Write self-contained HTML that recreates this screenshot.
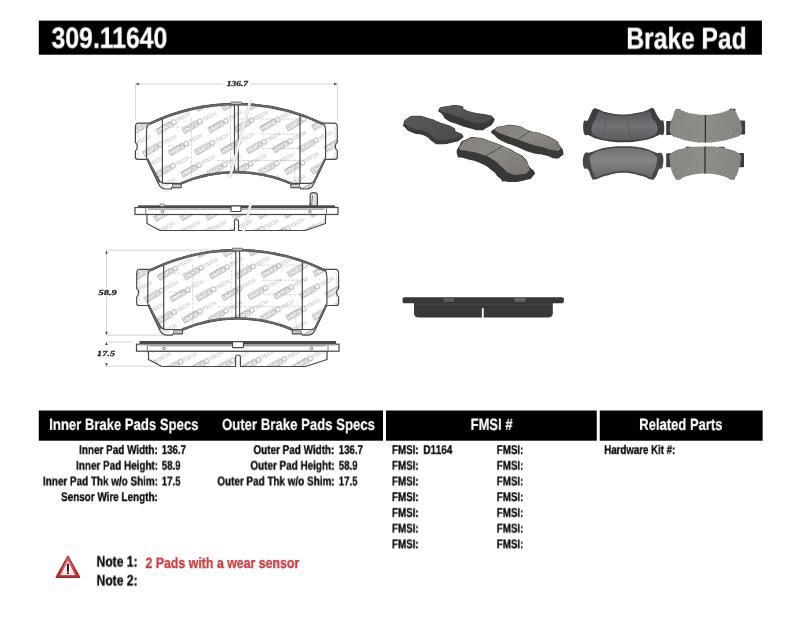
<!DOCTYPE html>
<html lang="en">
<head>
<meta charset="utf-8">
<title>309.11640 Brake Pad</title>
<style>
  html, body { margin: 0; padding: 0; background: #fff; }
  body { width: 800px; height: 619px; position: relative; overflow: hidden;
         font-family: "Liberation Sans", sans-serif; font-weight: bold; color: #0a0a0a; }
  #art { position: absolute; left: 0; top: 0; }
  .t { position: absolute; left: 0; top: 0; white-space: nowrap; line-height: 1;
       transform-origin: 0 0; will-change: transform; text-rendering: geometricPrecision; }
  .r { left: auto; right: 0; transform-origin: 100% 0; }
  .w { color: #fff; }
  .h1 { font-size: 30.1px; -webkit-text-stroke: .3px #fff; }
  .h2 { font-size: 16.2px; -webkit-text-stroke: .2px #fff; }
  .row { font-size: 12.6px; -webkit-text-stroke: 0.3px #0a0a0a; }
  .note { font-size: 15.1px; -webkit-text-stroke: .3px #0a0a0a; }
  .red { color: #cf3a3c; font-size: 15.0px; -webkit-text-stroke: .3px #cf3a3c; }
  .dim { font-family: "Liberation Serif", serif; font-style: italic; font-weight: bold;
         font-size: 7.75px; color: #262626; -webkit-text-stroke: .3px #262626; }
</style>
</head>
<body>

<!-- ===== bars, drawings, photos ===== -->
<svg id="art" width="800" height="619" viewBox="0 0 800 619" role="img" aria-label="Brake pad 309.11640 drawings and photos">
<defs>
  <linearGradient id="wg" x1="0" y1="0" x2="0" y2="1">
    <stop offset="0" stop-color="#e07474"/>
    <stop offset=".55" stop-color="#d24444"/>
    <stop offset="1" stop-color="#bb2c2c"/>
  </linearGradient>
  <filter id="dsoft" x="0" y="0" width="100%" height="100%" filterUnits="userSpaceOnUse" primitiveUnits="userSpaceOnUse"><feGaussianBlur stdDeviation="0.35"/></filter>
  <pattern id="wm" width="45.6" height="24.8" patternUnits="userSpaceOnUse" patternTransform="translate(3 2) rotate(-30)">
    <g font-family="Liberation Sans, sans-serif" font-size="5.4">
      <rect x="0.6" y="1" width="15.6" height="5.2" fill="none" stroke="#b6b6b6" stroke-width="1"/>
      <text x="1.6" y="5.5" font-weight="bold" fill="#b6b6b6" textLength="13.6" lengthAdjust="spacingAndGlyphs">STOP</text>
      <circle cx="19.6" cy="3.6" r="2.3" fill="none" stroke="#b6b6b6" stroke-width="1"/>
      <text x="23" y="5.5" fill="#c9c9c9" textLength="14.5" lengthAdjust="spacingAndGlyphs">TECH</text>
      <rect x="23.4" y="13.4" width="15.6" height="5.2" fill="none" stroke="#b6b6b6" stroke-width="1"/>
      <text x="24.4" y="17.9" font-weight="bold" fill="#b6b6b6" textLength="13.6" lengthAdjust="spacingAndGlyphs">STOP</text>
      <circle cx="42.4" cy="16" r="2.3" fill="none" stroke="#b6b6b6" stroke-width="1"/>
      <text x="0.2" y="17.9" fill="#c9c9c9" textLength="14.5" lengthAdjust="spacingAndGlyphs">TECH</text>
    </g>
  </pattern>
</defs>
<g id="bars" fill="#000">
  <rect x="38.8" y="20.6" width="723.1" height="34.1"/>
  <rect x="38.75" y="410.5" width="344.25" height="30.2"/>
  <rect x="386" y="410.5" width="210.75" height="30.2"/>
  <rect x="599.75" y="410.5" width="162.9" height="30.2"/>
</g>
<g id="warn">
  <path d="M67.9 556.4 L79.5 577.2 L56.3 577.2 Z" fill="#a32626" stroke="#a32626" stroke-width="1.5" stroke-linejoin="round"/>
  <path d="M67.9 557.4 L78.6 576.7 L57.2 576.7 Z" fill="url(#wg)" stroke="url(#wg)" stroke-width=".5" stroke-linejoin="round"/>
  <path d="M67.9 561.1 L75.2 575 L60.6 575 Z" fill="#fdf1f1" stroke="#f0aaaa" stroke-width=".5" stroke-linejoin="round"/>
  <rect x="66.95" y="563.7" width="1.9" height="8" rx=".5" fill="#151515"/>
  <circle cx="67.9" cy="573.3" r="1.05" fill="#151515"/>
</g>
<g id="dims" fill="none" stroke="#cacaca" stroke-width=".8">
  <path d="M135.4 83.6V120 M337.5 83.6V120 M136 84H222.8 M250.6 84H337"/>
  <path d="M106.5 250.2V288 M106.5 296.5V335 M106.5 250.2H235 M106.5 335.2H165"/>
  <path d="M108 342.2H132 M108 366.3H161"/>
</g>
<g id="arrows" fill="#444">
  <path d="M135.6 84l3.2-1.2v2.4z M337.3 84l-3.2-1.2v2.4z"/>
  <path d="M106.5 250.4l-1.3 3.2h2.6z M106.5 335l-1.3-3.2h2.6z M106.5 341.9l-1.4 3h2.8z M106.5 366.3l-1.4-3h2.8z"/>
</g>
<!-- technical drawing -->
<g id="drawing" filter="url(#dsoft)">
<g id="pad1-front" transform="translate(0 0)">
  <path d="M149.5 123.2 A200 200 0 0 1 322.8 123.2 L334.6 123.2 Q337.3 123.6 337.3 127.5 L337.3 142.2 Q335.3 143.6 335.3 146.3 Q335.3 149.3 337.3 150.8 L337.3 157 Q337.3 159.3 334.8 159.3 L325.5 159.3 L313.6 184.3 Q311.2 189 306.3 189 L301 189 L300.6 187.6 L291 187.6 L291 184 A140 140 0 0 0 181 184 L181 187.6 L171.6 187.6 L171.3 189 L166 189 Q161 189 158.7 184.3 L146.8 159.3 L137.8 159.3 Q135.4 159.3 135.4 157 L135.4 151 Q137.3 149.4 137.3 146.4 Q137.3 143.6 135.4 142.4 L135.4 127.5 Q135.4 123.6 137.8 123.2 Z" fill="#fff"/>
  <path d="M149.5 123.2 A200 200 0 0 1 322.8 123.2 L334.6 123.2 Q337.3 123.6 337.3 127.5 L337.3 142.2 Q335.3 143.6 335.3 146.3 Q335.3 149.3 337.3 150.8 L337.3 157 Q337.3 159.3 334.8 159.3 L325.5 159.3 L313.6 184.3 Q311.2 189 306.3 189 L301 189 L300.6 187.6 L291 187.6 L291 184 A140 140 0 0 0 181 184 L181 187.6 L171.6 187.6 L171.3 189 L166 189 Q161 189 158.7 184.3 L146.8 159.3 L137.8 159.3 Q135.4 159.3 135.4 157 L135.4 151 Q137.3 149.4 137.3 146.4 Q137.3 143.6 135.4 142.4 L135.4 127.5 Q135.4 123.6 137.8 123.2 Z" fill="url(#wm)"/>
  <g fill="none" stroke="#b9b9b9" stroke-width=".6" stroke-dasharray="3 1.2">
    <path d="M191.4 118V182 M230.5 106V171 M240 119H300 M261 134H306 M168 127H190 M168 146H190 M217 160.5H300 M262 148.5H306 M138 127V157 M335 127V157"/>
    <path d="M296 163Q293 172 296 183"/>
  </g>
  <g fill="none" stroke="#474747" stroke-width="1.2" stroke-linejoin="round">
    <path d="M149.5 123.2 A200 200 0 0 1 322.8 123.2 L334.6 123.2 Q337.3 123.6 337.3 127.5 L337.3 142.2 Q335.3 143.6 335.3 146.3 Q335.3 149.3 337.3 150.8 L337.3 157 Q337.3 159.3 334.8 159.3 L325.5 159.3 L313.6 184.3 Q311.2 189 306.3 189 L301 189 L300.6 187.6 L291 187.6 L291 184 A140 140 0 0 0 181 184 L181 187.6 L171.6 187.6 L171.3 189 L166 189 Q161 189 158.7 184.3 L146.8 159.3 L137.8 159.3 Q135.4 159.3 135.4 157 L135.4 151 Q137.3 149.4 137.3 146.4 Q137.3 143.6 135.4 142.4 L135.4 127.5 Q135.4 123.6 137.8 123.2 Z"/>
    <path d="M150 123.2 Q146.5 124.8 146.5 131.5 L146.5 157.5 L159.8 181 Q161.3 183.3 164.5 183.3 L181 183.3"/>
    <path d="M322.4 123.2 Q325.6 124.8 325.6 131.5 L325.6 157.5 L314.8 180.5 Q313.3 183.3 310 183.3 L291 183.3"/>
    <path d="M162.4 118.6V183.2 M300 114.5V183.2"/>
    <path d="M234.5 104.8V172.6 M238.3 104.8V172.6"/>
  </g>
  <g fill="none" stroke="#555" stroke-width="2.5">
    <path d="M149.5 123.9 A200 200 0 0 1 322.8 123.9"/>
    <path d="M181 183.3 A140 140 0 0 1 291 183.3"/>
    <path d="M147.3 158.5 L159.6 183" stroke-width="1.7"/>
    <path d="M325 158.5 L313.2 183" stroke-width="1.7"/>
  </g>
  <g fill="none" stroke="#fff" stroke-opacity="0.45" stroke-width="1" stroke-dasharray=".9 1.7">
    <path d="M149.5 123.9 A200 200 0 0 1 322.8 123.9"/>
    <path d="M181 183.3 A140 140 0 0 1 291 183.3"/>
    <path d="M147.3 158.5 L159.6 183"/>
    <path d="M325 158.5 L313.2 183"/>
  </g>
  <rect x="231" y="102" width="10.5" height="2.6" rx=".6" fill="#bdbdbd" stroke="#474747" stroke-width=".7"/>
  <rect x="172.4" y="184.6" width="8.6" height="2.8" fill="#c8c8c8" stroke="#474747" stroke-width=".6"/>
  <rect x="291" y="184.6" width="8.8" height="2.8" fill="#c8c8c8" stroke="#474747" stroke-width=".6"/>
  <path d="M250.6 99.5 L229.6 178.5" fill="none" stroke="#fff" stroke-width="2.6"/>
  <path d="M249.6 100 L228.8 178 M251.6 100.5 L230.7 178.5" fill="none" stroke="#b9b9b9" stroke-width=".5"/>
</g>
<g id="pad1-side">
  <path d="M147 214.5 L147 223.5 L160 230.5 L234.5 230.5 L234.5 221.5 Q234.5 219.5 236.5 219.5 Q238.5 219.5 238.5 221.5 L238.5 230.5 L305.5 230.5 L325.5 223.5 L325.5 214.5 Z" fill="#fff"/>
  <path d="M147 214.5 L147 223.5 L160 230.5 L234.5 230.5 L234.5 221.5 Q234.5 219.5 236.5 219.5 Q238.5 219.5 238.5 221.5 L238.5 230.5 L305.5 230.5 L325.5 223.5 L325.5 214.5 Z" fill="url(#wm)"/>
  <path d="M147 214.5 L147 223.5 L160 230.5 L234.5 230.5 L234.5 221.5 Q234.5 219.5 236.5 219.5 Q238.5 219.5 238.5 221.5 L238.5 230.5 L305.5 230.5 L325.5 223.5 L325.5 214.5 Z" fill="none" stroke="#474747" stroke-width="1.2" stroke-linejoin="round"/>
  <path d="M310.2 206 L310.2 195.4 Q310.2 192.6 313.8 192.6 Q317.4 192.6 317.4 195.4 L317.4 206 Z" fill="#dedede" stroke="#474747" stroke-width="1.2"/>
  <path d="M311.6 205 L312.6 195.5 M308.4 206.5 L310.6 203" fill="none" stroke="#474747" stroke-width=".6"/>
  <rect x="135" y="207.5" width="203" height="7" fill="#fff" stroke="#474747" stroke-width="1.2"/>
  <path d="M145.8 207.5V214.5 M326.5 207.5V214.5 M148 209.1H324.5" fill="none" stroke="#474747" stroke-width=".7"/>
  <rect x="138" y="205.3" width="197" height="2.2" fill="#4a4a4a"/>
  <rect x="231" y="206" width="10" height="5.5" rx=".8" fill="#fff" stroke="#474747" stroke-width="1.2"/>
  <circle cx="162.5" cy="211.7" r="1.3" fill="#fff" stroke="#474747" stroke-width=".7"/>
  <circle cx="310" cy="211.7" r="1.3" fill="#fff" stroke="#474747" stroke-width=".7"/>
  <rect x="160" y="204" width="4.5" height="2.4" rx=".5" fill="#ddd" stroke="#474747" stroke-width=".6"/>
  <path d="M251 202.5 L243 233" fill="none" stroke="#fff" stroke-width="2.6"/>
  <path d="M250 203 L242.4 232 M252 203.5 L244.4 232.5" fill="none" stroke="#b9b9b9" stroke-width=".5"/>
</g>
<g id="pad2-front" transform="translate(1.3 146.2)">
  <path d="M149.5 123.2 A200 200 0 0 1 322.8 123.2 L334.6 123.2 Q337.3 123.6 337.3 127.5 L337.3 142.2 Q335.3 143.6 335.3 146.3 Q335.3 149.3 337.3 150.8 L337.3 157 Q337.3 159.3 334.8 159.3 L325.5 159.3 L313.6 184.3 Q311.2 189 306.3 189 L301 189 L300.6 187.6 L291 187.6 L291 184 A140 140 0 0 0 181 184 L181 187.6 L171.6 187.6 L171.3 189 L166 189 Q161 189 158.7 184.3 L146.8 159.3 L137.8 159.3 Q135.4 159.3 135.4 157 L135.4 151 Q137.3 149.4 137.3 146.4 Q137.3 143.6 135.4 142.4 L135.4 127.5 Q135.4 123.6 137.8 123.2 Z" fill="#fff"/>
  <path d="M149.5 123.2 A200 200 0 0 1 322.8 123.2 L334.6 123.2 Q337.3 123.6 337.3 127.5 L337.3 142.2 Q335.3 143.6 335.3 146.3 Q335.3 149.3 337.3 150.8 L337.3 157 Q337.3 159.3 334.8 159.3 L325.5 159.3 L313.6 184.3 Q311.2 189 306.3 189 L301 189 L300.6 187.6 L291 187.6 L291 184 A140 140 0 0 0 181 184 L181 187.6 L171.6 187.6 L171.3 189 L166 189 Q161 189 158.7 184.3 L146.8 159.3 L137.8 159.3 Q135.4 159.3 135.4 157 L135.4 151 Q137.3 149.4 137.3 146.4 Q137.3 143.6 135.4 142.4 L135.4 127.5 Q135.4 123.6 137.8 123.2 Z" fill="url(#wm)"/>
  <g fill="none" stroke="#b9b9b9" stroke-width=".6" stroke-dasharray="3 1.2">
    <path d="M191.4 118V182 M230.5 106V171 M240 119H300 M261 134H306 M168 127H190 M168 146H190 M217 160.5H300 M262 148.5H306 M138 127V157 M335 127V157"/>
    <path d="M296 163Q293 172 296 183"/>
  </g>
  <g fill="none" stroke="#474747" stroke-width="1.2" stroke-linejoin="round">
    <path d="M149.5 123.2 A200 200 0 0 1 322.8 123.2 L334.6 123.2 Q337.3 123.6 337.3 127.5 L337.3 142.2 Q335.3 143.6 335.3 146.3 Q335.3 149.3 337.3 150.8 L337.3 157 Q337.3 159.3 334.8 159.3 L325.5 159.3 L313.6 184.3 Q311.2 189 306.3 189 L301 189 L300.6 187.6 L291 187.6 L291 184 A140 140 0 0 0 181 184 L181 187.6 L171.6 187.6 L171.3 189 L166 189 Q161 189 158.7 184.3 L146.8 159.3 L137.8 159.3 Q135.4 159.3 135.4 157 L135.4 151 Q137.3 149.4 137.3 146.4 Q137.3 143.6 135.4 142.4 L135.4 127.5 Q135.4 123.6 137.8 123.2 Z"/>
    <path d="M150 123.2 Q146.5 124.8 146.5 131.5 L146.5 157.5 L159.8 181 Q161.3 183.3 164.5 183.3 L181 183.3"/>
    <path d="M322.4 123.2 Q325.6 124.8 325.6 131.5 L325.6 157.5 L314.8 180.5 Q313.3 183.3 310 183.3 L291 183.3"/>
    <path d="M162.4 118.6V183.2 M301 114.5V183.2"/>
    <path d="M234.5 104.8V172.6 M238.3 104.8V172.6"/>
  </g>
  <g fill="none" stroke="#555" stroke-width="2.5">
    <path d="M149.5 123.9 A200 200 0 0 1 322.8 123.9"/>
    <path d="M181 183.3 A140 140 0 0 1 291 183.3"/>
    <path d="M147.3 158.5 L159.6 183" stroke-width="1.7"/>
    <path d="M325 158.5 L313.2 183" stroke-width="1.7"/>
  </g>
  <g fill="none" stroke="#fff" stroke-opacity="0.45" stroke-width="1" stroke-dasharray=".9 1.7">
    <path d="M149.5 123.9 A200 200 0 0 1 322.8 123.9"/>
    <path d="M181 183.3 A140 140 0 0 1 291 183.3"/>
    <path d="M147.3 158.5 L159.6 183"/>
    <path d="M325 158.5 L313.2 183"/>
  </g>
  <rect x="231" y="102" width="10.5" height="2.6" rx=".6" fill="#bdbdbd" stroke="#474747" stroke-width=".7"/>
  <rect x="172.4" y="184.6" width="8.6" height="2.8" fill="#c8c8c8" stroke="#474747" stroke-width=".6"/>
  <rect x="291" y="184.6" width="8.8" height="2.8" fill="#c8c8c8" stroke="#474747" stroke-width=".6"/>
</g>
<g id="pad2-side">
  <path d="M148.5 351.2 L148.5 359.5 L162.0 366.5 L235.6 366.5 L235.6 357 Q235.6 355 238.0 355 Q240.4 355 240.4 357 L240.4 366.5 L305.5 366.5 L327 359.5 L327 351.2 Z" fill="#fff"/>
  <path d="M148.5 351.2 L148.5 359.5 L162.0 366.5 L235.6 366.5 L235.6 357 Q235.6 355 238.0 355 Q240.4 355 240.4 357 L240.4 366.5 L305.5 366.5 L327 359.5 L327 351.2 Z" fill="url(#wm)"/>
  <path d="M148.5 351.2 L148.5 359.5 L162.0 366.5 L235.6 366.5 L235.6 357 Q235.6 355 238.0 355 Q240.4 355 240.4 357 L240.4 366.5 L305.5 366.5 L327 359.5 L327 351.2 Z" fill="none" stroke="#474747" stroke-width="1.2" stroke-linejoin="round"/>
  <rect x="136.5" y="344.2" width="202.5" height="7" fill="#fff" stroke="#474747" stroke-width="1.2"/>
  <path d="M147.3 344.2V351.2 M328 344.2V351.2 M149.5 345.8H326" fill="none" stroke="#474747" stroke-width=".7"/>
  <rect x="139.5" y="341" width="196.5" height="3.2" fill="#4a4a4a"/>
  <rect x="139.5" y="344.0" width="196.5" height="1.4" fill="#9a9a9a"/>
  <rect x="232.5" y="341.6" width="11.0" height="6.0" rx=".8" fill="#fff" stroke="#474747" stroke-width="1.2"/>
  <circle cx="164" cy="348.4" r="1.3" fill="#fff" stroke="#474747" stroke-width=".7"/>
  <circle cx="311.5" cy="348.4" r="1.3" fill="#fff" stroke="#474747" stroke-width=".7"/>
</g>
</g>
<!-- product photos (vector approximations) -->
<defs>
  <filter id="soft" x="-5%" y="-5%" width="110%" height="110%"><feGaussianBlur stdDeviation="0.7"/></filter>
  <filter id="grain" x="0" y="0" width="100%" height="100%"><feTurbulence type="fractalNoise" baseFrequency=".75" numOctaves="2" seed="11" result="n"/><feColorMatrix in="n" type="matrix" values="0 0 0 0 .22  0 0 0 0 .21  0 0 0 0 .2  0 0 0 3.2 -1.5" result="sp"/><feComposite in="sp" in2="SourceGraphic" operator="in" result="spk"/><feMerge><feMergeNode in="SourceGraphic"/><feMergeNode in="spk"/></feMerge></filter>
  <linearGradient id="gA" x1="0" y1="0" x2="1" y2="1"><stop offset="0" stop-color="#5a5a5d"/><stop offset="1" stop-color="#4a4a4d"/></linearGradient>
  <linearGradient id="gF" x1="0" y1="0" x2="1" y2="1"><stop offset="0" stop-color="#85827d"/><stop offset=".5" stop-color="#8e8b85"/><stop offset="1" stop-color="#787570"/></linearGradient>
  <linearGradient id="gS" x1="0" y1="0" x2="0" y2="1"><stop offset="0" stop-color="#58565a"/><stop offset=".5" stop-color="#727074"/><stop offset="1" stop-color="#5e5c60"/></linearGradient>
  <linearGradient id="gS2" x1="0" y1="0" x2="0" y2="1"><stop offset="0" stop-color="#747274"/><stop offset=".45" stop-color="#858383"/><stop offset="1" stop-color="#676568"/></linearGradient>
  <linearGradient id="gT" x1="0" y1="0" x2="1" y2="0"><stop offset="0" stop-color="#8a8985"/><stop offset=".5" stop-color="#92918c"/><stop offset="1" stop-color="#878682"/></linearGradient>
</defs>
<g id="photo-perspective" filter="url(#soft)">
  <path d="M438.7 109.5C440.2 106.6 439.7 107.4 447 106.2C454.2 104.9 454.5 104.6 460.5 105.7C466.5 106.8 460.5 107.2 465 109.5C469.5 111.7 466.5 110.7 474 112.5C481.5 114.2 481.2 113.2 487.5 114.7C493.7 116.2 490.7 114.5 492.7 117C494.7 119.5 495.7 118.5 493.5 122.2C491.2 126 490.5 125.6 486 128.2C481.5 130.9 485.5 130.2 480 130.2C474.5 130.2 477.5 130.4 469.5 128.2C461.5 126.1 463.5 126.5 456 123.7C448.5 121 451.5 123 447 120C442.5 117 445.2 118.2 442.5 114.7C439.7 111.2 437.2 112.3 438.7 109.5Z" fill="#39393b"/>
  <path d="M439.5 109.2C440.2 107.2 440.1 107.5 447 106.5C453.9 105.4 454.3 104.9 460.2 106C466.1 107.1 460.1 107.5 464.7 109.8C469.3 112.1 466.5 111.1 474 112.9C481.5 114.7 481.2 113.7 487.2 115.2C493.2 116.6 491.4 115.4 492 117.3C492.6 119.1 492.5 118.7 489 120.7C485.5 122.7 486.5 122.8 481.5 123.3C476.5 123.8 481 124.1 474 122.2C467 120.4 468.5 120.5 460.5 117.7C452.5 115 455.2 115.7 450 114C444.7 112.2 448.2 114.1 444.7 112.5C441.2 110.9 438.7 111.2 439.5 109.2Z" fill="url(#gA)"/>
  <path d="M403.5 123.7C404.2 120.7 403 121.1 407.2 118.5C411.5 115.8 408.7 115.8 416.2 115.8C423.7 115.8 422 116.3 429.7 118.5C437.5 120.6 431.7 119.3 439.5 122.2C447.2 125.1 447.5 124.2 453 127.2C458.5 130.2 452.7 128.6 456 131.2C459.2 133.8 461.2 132.2 462.7 135C464.2 137.7 463.7 137 460.5 139.5C457.2 142 460 140.9 453 142.5C446 144.1 446.2 144.5 439.5 144.3C432.7 144 437.7 144.6 432.7 141.7C427.7 138.9 431.2 138.7 424.5 135.7C417.7 132.7 419 135.5 412.5 132.7C406 130 408 130.5 405 127.5C402 124.5 402.7 126.7 403.5 123.7Z" fill="#3b3b3d"/>
  <path d="M405 122.2C405.4 119.9 404.2 120.2 408 118.2C411.7 116.2 409 116 416.2 116.2C423.5 116.4 422 116.7 429.7 118.8C437.5 120.9 432 119.6 439.5 122.5C447 125.4 447 124.5 452.2 127.5C457.5 130.5 452.1 129 455.2 131.5C458.4 134 460.7 132.9 461.7 135C462.7 137 462.1 136.3 458.2 137.7C454.3 139.1 456 138.3 450 139.2C444 140 445.5 140.7 440.2 140.2C435 139.7 439 140.4 434.2 137.7C429.5 134.9 432.7 135 426 132C419.2 129 420.4 130.9 414 128.7C407.6 126.4 409.8 127.4 406.8 125.2C403.8 123.1 404.6 124.6 405 122.2Z" fill="url(#gA)"/>
  <path d="M491.2 132.2C491.7 130.2 491.7 130.5 495 128.5C498.2 126.5 494 127.2 501 126.2C508 125.2 506.5 124 516 125.5C525.5 127 521 128 529.5 130.7C538 133.5 533 130.7 541.5 133.7C550 136.7 549 136 555 139.7C561 143.5 556.7 141 559.5 145C562.2 149 562.7 148 563.2 151.7C563.7 155.5 563.7 154 561 156.2C558.2 158.5 560 158.7 555 158.5C550 158.2 554 157.5 546 155.5C538 153.5 541 155.5 531 152.5C521 149.5 525.5 150.2 516 146.5C506.5 142.7 510 145.2 502.5 141.2C495 137.2 497.2 137.5 493.5 134.5C489.7 131.5 490.7 134.2 491.2 132.2Z" fill="#3a3838"/>
  <path d="M495.7 129.2C497 127.5 494.2 127.8 501 126.7C507.7 125.6 506.5 124.4 516 125.9C525.5 127.4 521 128.4 529.5 131.2C538 133.9 533.1 131.2 541.5 134.2C549.9 137.2 548.9 136.6 554.7 140.2C560.4 143.8 556.9 141.9 558.7 145C560.6 148.1 562 147.7 560.2 149.5C558.5 151.2 559.2 151 553.5 150.2C547.7 149.5 550.5 149.2 543 147.2C535.5 145.2 539.5 146.9 531 144.2C522.5 141.6 526 142.3 517.5 139.3C509 136.3 512.2 137.7 505.5 135.2C498.7 132.7 500.5 133.8 497.2 131.8C494 129.8 494.5 130.9 495.7 129.2Z" fill="url(#gF)" filter="url(#grain)"/>
  <path d="M529.8 131.2 L518.6 138.6" stroke="#4a4745" stroke-width=".9" fill="none"/>
  <path d="M457.5 155.5C455.7 151 456.7 150.4 459.7 145C462.7 139.6 460.7 141.8 466.5 139.3C472.2 136.8 469 136.8 477 137.5C485 138.1 482 138.5 490.5 141.2C499 144 494 142 502.5 145.7C511 149.5 508.5 148.2 516 152.5C523.5 156.7 520.5 153.7 525 158.5C529.5 163.2 526.5 162.5 529.5 166.7C532.5 171 532.7 168.2 534 171.2C535.2 174.2 536.2 172.7 533.2 175.7C530.2 178.7 533.7 178.2 525 180.2C516.2 182.2 515.5 182.5 507 181.7C498.5 181 504.5 181.7 499.5 178C494.5 174.2 498.5 175.5 492 170.5C485.5 165.5 489 167 480 163C471 159 472.5 161 465 158.5C457.5 156 459.2 160 457.5 155.5Z" fill="#393737"/>
  <path d="M460.2 149.5C457.9 147.4 459 147.9 461.2 144.7C463.4 141.5 461.5 142.1 466.8 139.9C472 137.7 469.1 137.4 477 138.1C484.9 138.7 482 139.1 490.5 141.8C499 144.6 494.1 142.6 502.5 146.3C510.9 150.1 508.4 148.8 515.7 153.1C523 157.3 520.1 154.5 524.4 159.1C528.7 163.6 527.4 162.5 528.6 166.7C529.8 170.9 530.7 169.2 528 171.7C525.3 174.2 526.5 173.7 520.5 174.2C514.5 174.7 516.2 175.7 510 173.2C503.7 170.7 507.2 171.1 501.7 166.7C496.2 162.3 500.2 164.1 493.5 160C486.7 155.8 490 157.3 481.5 154.3C473 151.3 475.1 152.6 468 151C460.9 149.4 462.4 151.6 460.2 149.5Z" fill="url(#gF)" filter="url(#grain)"/>
  <path d="M502.8 146.2 L485.5 156" stroke="#4a4745" stroke-width=".9" fill="none"/>
</g>
<g id="photo-flat" filter="url(#soft)">
  <path d="M593.7 108.8C595.7 107.6 595.7 108.7 598.8 109.6C602 110.5 601.6 111.4 607.2 112.6C612.9 113.8 615.6 114.6 623 114.6C630.3 114.6 633 113.7 638.7 112.6C644.5 111.5 644.5 110.9 647.7 109.9C651 108.8 650.7 107 652.8 108.1C654.9 109.2 654.9 111.8 656.7 114.6C658.6 117.5 659.1 118.7 660.7 120.2C662.3 121.8 662.8 118.2 663.5 121.4C664.2 124.5 664.8 130.6 663.7 133.7C662.7 136.9 662.2 133.7 659 134.9C655.8 136.1 655.2 137.3 650 138.8C644.7 140.3 642.8 140.6 636.5 141.4C630.2 142.2 629.3 142.2 623 142.2C616.7 142.2 615.5 142.2 609.5 141.4C603.5 140.6 601.8 140.2 597.1 138.8C592.4 137.4 592.3 136.6 589.2 135.4C586.2 134.3 585.5 136.9 584.2 133.7C582.9 130.6 582.8 125.1 583.6 121.9C584.4 118.8 586 122 587.6 120.2C589.1 118.5 588.9 117.3 590.4 114.6C591.8 111.9 591.8 110 593.7 108.8Z" fill="#3f3e42"/>
  <path d="M599.4 111.2C602.4 110.1 600.9 112.5 607.2 113.7C613.5 114.9 614.6 115.7 623 115.7C631.4 115.7 631.8 114.9 638.7 113.7C645.6 112.5 645.3 110.1 648.9 111.2C652.5 112.4 650.1 114.4 652.2 118C654.3 121.6 655.5 120.8 656.7 124.7C657.9 128.6 658.5 129.4 656.7 132.6C654.9 135.9 655.4 135 650 136.9C644.6 138.8 643.7 138.7 636.5 139.6C629.3 140.5 630.2 140.3 623 140.3C615.8 140.3 616.4 140.5 609.5 139.6C602.6 138.7 601.8 138.8 597.1 136.9C592.5 135 593.3 135.9 592.1 132.6C590.9 129.4 591.6 128.6 592.6 124.7C593.7 120.8 594.2 121.6 596 118C597.8 114.4 596.4 112.4 599.4 111.2Z" fill="url(#gS)"/>
  <path d="M607.5 113 L602.5 138 M627.5 116 L630.5 140" stroke="#56545a" stroke-width="1.1" fill="none" opacity=".55"/>
  <path d="M584.2 154.4C586 150.9 586.4 153.7 591.5 152.1C596.6 150.6 598.8 149 606.1 147.6C613.5 146.3 614.9 146.2 623 146.2C631.1 146.2 633.4 146.2 641 147.6C648.6 149.1 650.6 150.7 655.6 152.4C660.6 154 660.7 151.2 662.4 154.6C664 158 663.4 163.5 662.6 167C661.8 170.5 660.6 167.1 659 169.5C657.4 171.8 657.5 174.8 655.6 177.1C653.8 179.5 654.5 179.9 651.1 179.6C647.7 179.3 647.6 177.3 641 175.8C634.4 174.2 631.1 172.8 623 172.8C614.9 172.8 612.7 174.2 606.1 175.8C599.6 177.3 598.3 179.3 594.9 179.6C591.4 179.9 592.8 179.5 591.3 177.1C589.7 174.8 589.9 171.8 588.1 169.5C586.3 167.1 584.5 170.5 583.6 167C582.7 163.5 582.3 157.9 584.2 154.4Z" fill="#47464a"/>
  <path d="M592.1 154.6C596.3 151.2 597.9 151.3 606.1 149.6C614.4 147.8 613.7 148.1 623 148.1C632.3 148.1 632.6 147.8 641 149.6C649.4 151.3 650.3 151.2 654.5 154.6C658.7 158.1 657.2 157.4 656.7 162.5C656.3 167.6 654.6 169.9 652.8 173.7C651 177.6 653.1 176.9 650 176.9C646.8 176.9 648.2 175.3 641 173.7C633.8 172.2 632.3 170.9 623 170.9C613.7 170.9 613.2 172.2 606.1 173.7C599.1 175.3 599.9 176.9 596.6 176.9C593.3 176.9 595.4 177.6 593.7 173.7C592.1 169.9 590.8 167.6 590.4 162.5C589.9 157.4 587.9 158.1 592.1 154.6Z" fill="url(#gS2)"/>
  <g fill="#3e3d41">
    <rect x="666.2" y="121.1" width="6.2" height="13.9" rx=".8"/><rect x="739.3" y="120.6" width="5.8" height="13.9" rx=".8"/><rect x="675.5" y="109.2" width="5.3" height="2.0" rx=".8"/><rect x="729.5" y="108.8" width="6.1" height="2.2" rx=".8"/>
    <rect x="666.2" y="153.3" width="6.2" height="13.9" rx=".8"/><rect x="738.7" y="153.0" width="5.3" height="14.2" rx=".8"/><rect x="675.5" y="177.1" width="5.3" height="2.5" rx=".8"/><rect x="729.5" y="177.1" width="5.3" height="2.5" rx=".8"/><rect x="685.6" y="146.7" width="6.4" height="1.8" rx=".8"/><rect x="718.3" y="146.7" width="6.4" height="1.8" rx=".8"/>
  </g>
  <path d="M675.7 110.1C678 108.7 678.8 109.9 682.5 110.7C686.2 111.5 686.2 112.5 691.5 113.5C696.7 114.5 698.7 114.8 705 114.8C711.3 114.8 713 114.5 718.5 113.5C724 112.4 724.9 111.1 728.6 110.3C732.3 109.6 731.9 108.3 734.2 110.1C736.6 111.9 737.2 115.1 738.7 118C740.3 120.9 740.5 118.8 741 122.5C741.5 126.2 743.1 130.1 741 133.7C738.9 137.4 737.2 136.5 732 138.2C726.7 140 724.8 140.4 718.5 141.4C712.2 142.4 711.3 142.5 705 142.5C698.7 142.5 697.5 142.4 691.5 141.4C685.5 140.4 684 140 679.1 138.2C674.3 136.5 672.7 137.4 670.7 133.7C668.7 130.1 670.2 126.4 670.7 122.5C671.2 118.6 671.8 119.8 672.9 116.9C674.1 114 673.5 111.6 675.7 110.1Z" fill="url(#gT)" filter="url(#grain)"/>
  <path d="M705.4 115 V142.3" stroke="#302f31" stroke-width="1.3" fill="none"/>
  <path d="M671.2 153.5C674.9 150.1 678 149.7 685.9 148.1C693.7 146.5 696.9 146.6 705 146.5C713.1 146.4 712.9 146.1 720.7 147.6C728.6 149.2 734.2 149.8 738.7 153.3C743.3 156.7 740.4 158.8 740.4 162.5C740.4 166.2 739.9 165.8 738.7 169.2C737.6 172.7 737.2 174.9 735.4 177.1C733.5 179.4 734.3 179.2 730.9 178.8C727.5 178.4 726.8 176.7 720.7 175.4C714.7 174.2 712.3 173.5 705 173.5C697.6 173.5 695.5 174.1 689.2 175.4C682.9 176.7 681.4 178.8 678 179.1C674.6 179.5 676.2 179.4 674.6 177.1C673 174.8 672.3 172.7 671.2 169.2C670.2 165.8 670.1 166.2 670.1 162.5C670.1 158.8 667.6 156.9 671.2 153.5Z" fill="url(#gT)" filter="url(#grain)"/>
  <path d="M705 146.6 V173.4" stroke="#302f31" stroke-width="1.3" fill="none"/>
</g>
<g id="photo-side" filter="url(#soft)">
  <path d="M402.6 297.7 L405 297.3 L561.5 297.3 L563.8 297.7 L563.8 302.6 L562.5 303.2 L552.8 303.2 L552.8 313.5 Q552.6 317.6 548 317.6 L483.7 317.6 L483.7 308.2 L481.9 308.2 L481.9 317.6 L419 317.6 Q414.2 317.6 414 313.5 L414 303.2 L403.6 303.2 L402.6 302.6 Z" fill="#37373a"/>
  <rect x="414.5" y="303.4" width="138" height="2" fill="#424245"/>
  <rect x="443.6" y="297.4" width="10.6" height="4.4" fill="#5c5c5f"/>
  <rect x="514.6" y="297.4" width="10.8" height="4.4" fill="#636366"/>
</g>
</svg>

<!-- ===== title ===== -->
<div class="t w h1" style="transform:translate(51.50px,23.79px) scaleX(0.846);font-size:29.3px">309.11640</div>
<div class="t r w h1" style="transform:translate(-53.60px,24.51px) scaleX(0.817);">Brake Pad</div>

<!-- ===== dimension labels ===== -->
<div class="t dim" style="transform:translate(226.70px,80.21px) scaleX(1.226);">136.7</div>
<div class="t dim" style="transform:translate(98.40px,288.61px) scaleX(1.35);">58.9</div>
<div class="t dim" style="transform:translate(97.10px,349.81px) scaleX(1.32);">17.5</div>

<!-- ===== spec table headers ===== -->
<div class="t w h2" style="transform:translate(49.20px,416.88px) scaleX(0.809);">Inner Brake Pads Specs</div>
<div class="t w h2" style="transform:translate(222.00px,416.88px) scaleX(0.8135);">Outer Brake Pads Specs</div>
<div class="t w h2" style="transform:translate(470.50px,416.88px) scaleX(0.805);">FMSI #</div>
<div class="t w h2" style="transform:translate(639.25px,416.88px) scaleX(0.804);">Related Parts</div>

<!-- ===== inner pad specs ===== -->
<div class="t r row" style="transform:translate(-642.20px,443.88px) scaleX(0.787);">Inner Pad Width:</div>
<div class="t row" style="transform:translate(161.75px,443.88px) scaleX(0.768);">136.7</div>
<div class="t r row" style="transform:translate(-642.20px,459.60px) scaleX(0.787);">Inner Pad Height:</div>
<div class="t row" style="transform:translate(161.75px,459.60px) scaleX(0.768);">58.9</div>
<div class="t r row" style="transform:translate(-642.20px,475.32px) scaleX(0.787);">Inner Pad Thk w/o Shim:</div>
<div class="t row" style="transform:translate(161.75px,475.32px) scaleX(0.768);">17.5</div>
<div class="t r row" style="transform:translate(-642.20px,491.04px) scaleX(0.787);">Sensor Wire Length:</div>

<!-- ===== outer pad specs ===== -->
<div class="t r row" style="transform:translate(-465.45px,443.88px) scaleX(0.787);">Outer Pad Width:</div>
<div class="t row" style="transform:translate(338.75px,443.88px) scaleX(0.768);">136.7</div>
<div class="t r row" style="transform:translate(-465.45px,459.60px) scaleX(0.787);">Outer Pad Height:</div>
<div class="t row" style="transform:translate(338.75px,459.60px) scaleX(0.768);">58.9</div>
<div class="t r row" style="transform:translate(-465.45px,475.32px) scaleX(0.787);">Outer Pad Thk w/o Shim:</div>
<div class="t row" style="transform:translate(338.75px,475.32px) scaleX(0.768);">17.5</div>

<!-- ===== FMSI numbers ===== -->
<div class="t row" style="transform:translate(392.00px,443.88px) scaleX(0.777);">FMSI:</div>
<div class="t row" style="transform:translate(423.40px,443.88px) scaleX(0.792);">D1164</div>
<div class="t row" style="transform:translate(392.00px,459.60px) scaleX(0.777);">FMSI:</div>
<div class="t row" style="transform:translate(392.00px,475.32px) scaleX(0.777);">FMSI:</div>
<div class="t row" style="transform:translate(392.00px,491.04px) scaleX(0.777);">FMSI:</div>
<div class="t row" style="transform:translate(392.00px,506.76px) scaleX(0.777);">FMSI:</div>
<div class="t row" style="transform:translate(392.00px,522.48px) scaleX(0.777);">FMSI:</div>
<div class="t row" style="transform:translate(392.00px,538.20px) scaleX(0.777);">FMSI:</div>
<div class="t row" style="transform:translate(496.75px,443.88px) scaleX(0.777);">FMSI:</div>
<div class="t row" style="transform:translate(496.75px,459.60px) scaleX(0.777);">FMSI:</div>
<div class="t row" style="transform:translate(496.75px,475.32px) scaleX(0.777);">FMSI:</div>
<div class="t row" style="transform:translate(496.75px,491.04px) scaleX(0.777);">FMSI:</div>
<div class="t row" style="transform:translate(496.75px,506.76px) scaleX(0.777);">FMSI:</div>
<div class="t row" style="transform:translate(496.75px,522.48px) scaleX(0.777);">FMSI:</div>
<div class="t row" style="transform:translate(496.75px,538.20px) scaleX(0.777);">FMSI:</div>

<!-- ===== related parts ===== -->
<div class="t row" style="transform:translate(604.25px,443.88px) scaleX(0.768);">Hardware Kit #:</div>

<!-- ===== notes ===== -->
<div class="t note" style="transform:translate(96.60px,554.51px) scaleX(0.8);">Note 1:</div>
<div class="t red" style="transform:translate(145.50px,556.00px) scaleX(0.823);">2 Pads with a wear sensor</div>
<div class="t note" style="transform:translate(96.60px,573.41px) scaleX(0.8);">Note 2:</div>

</body>
</html>
